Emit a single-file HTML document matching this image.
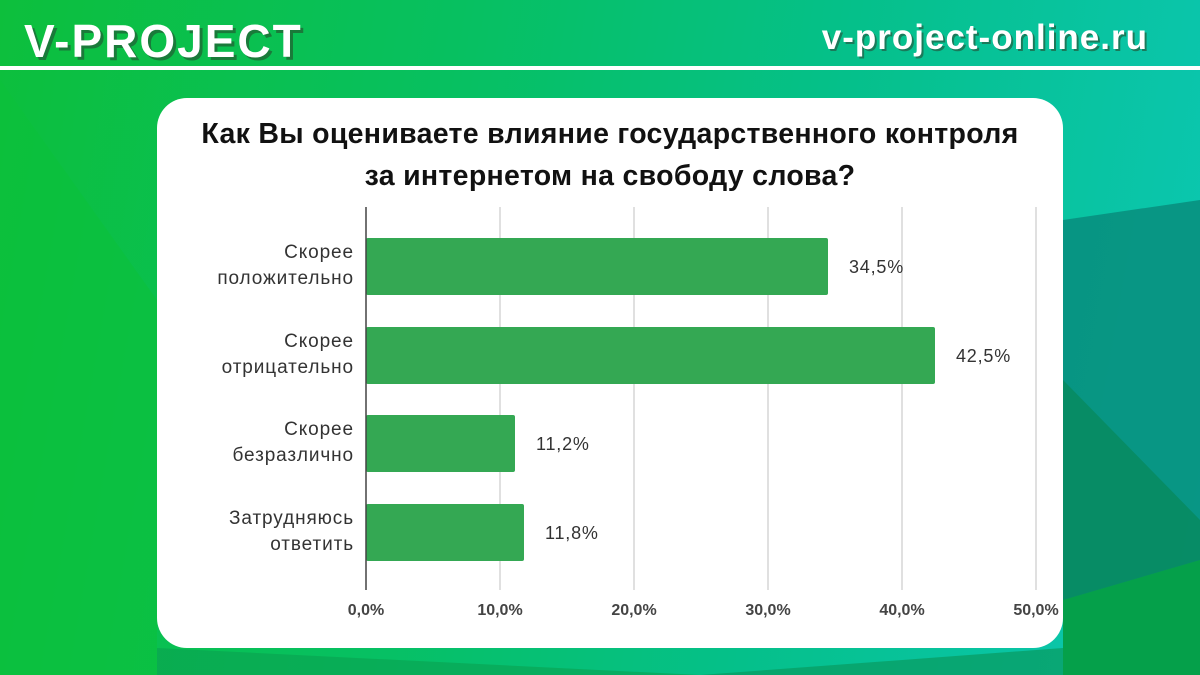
<!DOCTYPE html>
<html><head><meta charset="utf-8"><style>
body{margin:0;width:1200px;height:675px;overflow:hidden;font-family:"Liberation Sans",sans-serif;}
.bg{position:absolute;left:0;top:0;width:1200px;height:675px;background:linear-gradient(100deg,#0dbf3c 0%,#07c060 35%,#05c08a 65%,#0cc7b5 100%);overflow:hidden}
.poly{position:absolute}
.hline{position:absolute;left:0;top:66px;width:1200px;height:4px;background:#fff}
.logo{position:absolute;left:24px;top:14px;font-size:46px;font-weight:bold;color:#fff;text-shadow:3px 3px 0 #1a7a3a;letter-spacing:2px}
.site{position:absolute;right:52px;top:18px;font-size:35px;font-weight:bold;color:#fff;text-shadow:2px 2px 0 #1a7a5a;letter-spacing:1px}
.card{position:absolute;left:157px;top:98px;width:906px;height:550px;background:#fff;border-radius:30px}
.title{position:absolute;left:157px;top:113px;width:906px;text-align:center;font-size:28.5px;font-weight:bold;color:#111;line-height:42px;letter-spacing:0.3px}
.lab{position:absolute;right:846px;text-align:right;font-size:19px;color:#333;line-height:26px;letter-spacing:0.9px}
.val{position:absolute;font-size:18px;color:#333;letter-spacing:0.8px}
.tick{position:absolute;top:602px;font-size:16px;font-weight:bold;color:#444;width:80px;margin-left:-40px;text-align:center}
</style></head><body>
<div class="bg">
<svg class="poly" width="1200" height="675" style="left:0;top:0">
<polygon points="1063,220 1200,200 1200,560 1063,600" fill="#08907f" opacity="0.9"/>
<polygon points="1063,380 1200,520 1200,675 1063,675" fill="#078a5e" opacity="0.8"/>
<polygon points="1063,600 1200,560 1200,675 1063,675" fill="#05a04a"/>
<polygon points="0,80 157,300 157,675 0,675" fill="#0cc23a" opacity="0.6"/>
<polygon points="157,648 700,675 157,675" fill="#0aa050" opacity="0.6"/>
<polygon points="700,675 1063,648 1063,675" fill="#099a60" opacity="0.7"/>
</svg>
</div>
<div class="hline"></div>
<div class="logo">V-PROJECT</div>
<div class="site">v-project-online.ru</div>
<div class="card"></div>
<div class="title">Как Вы оцениваете влияние государственного контроля<br>за интернетом на свободу слова?</div>
<svg style="position:absolute;left:0;top:0" width="1200" height="675">
<g stroke="#d6d6d6" stroke-width="1.5">
<line x1="500" y1="207" x2="500" y2="590"/><line x1="634" y1="207" x2="634" y2="590"/>
<line x1="768" y1="207" x2="768" y2="590"/><line x1="902" y1="207" x2="902" y2="590"/>
<line x1="1036" y1="207" x2="1036" y2="590"/></g>
<g fill="#34a853">
<rect x="366" y="238" width="462" height="57" rx="2"/>
<rect x="366" y="327" width="569" height="57" rx="2"/>
<rect x="366" y="415" width="149" height="57" rx="2"/>
<rect x="366" y="504" width="158" height="57" rx="2"/></g>
<line x1="366" y1="207" x2="366" y2="590" stroke="#444" stroke-width="1.5"/>
</svg>
<div class="lab" style="top:240px">Скорее<br>положительно</div>
<div class="lab" style="top:329px">Скорее<br>отрицательно</div>
<div class="lab" style="top:417px">Скорее<br>безразлично</div>
<div class="lab" style="top:506px">Затрудняюсь<br>ответить</div>
<div class="val" style="left:849px;top:257px">34,5%</div>
<div class="val" style="left:956px;top:346px">42,5%</div>
<div class="val" style="left:536px;top:434px">11,2%</div>
<div class="val" style="left:545px;top:523px">11,8%</div>
<div class="tick" style="left:366px">0,0%</div>
<div class="tick" style="left:500px">10,0%</div>
<div class="tick" style="left:634px">20,0%</div>
<div class="tick" style="left:768px">30,0%</div>
<div class="tick" style="left:902px">40,0%</div>
<div class="tick" style="left:1036px">50,0%</div>
</body></html>
